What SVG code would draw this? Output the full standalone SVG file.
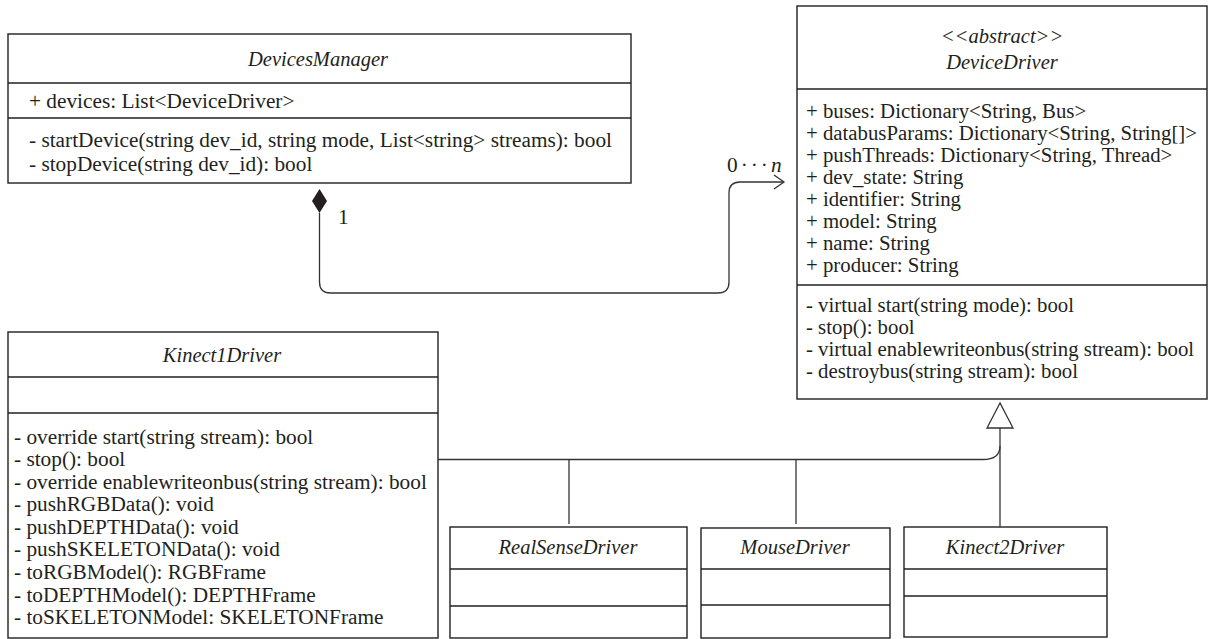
<svg xmlns="http://www.w3.org/2000/svg" width="1215" height="639" viewBox="0 0 1215 639">
<style>
.box{fill:#fff;stroke:#231f20;stroke-width:1.4}
.div{stroke:#231f20;stroke-width:1.3}
.t{font-family:"Liberation Serif","Times New Roman",serif;font-size:21.3px;fill:#231f20}
.dd{font-size:20.8px}
.ti{font-family:"Liberation Serif","Times New Roman",serif;font-size:20.5px;font-style:italic;fill:#231f20;text-anchor:middle}
.c{fill:none;stroke:#333;stroke-width:1.3}
</style>
<rect width="1215" height="639" fill="#fff"/>
<g id="DevicesManager">
<rect class="box" x="8" y="34" width="623" height="149"/>
<line class="div" x1="8" y1="83" x2="631" y2="83"/>
<line class="div" x1="8" y1="118" x2="631" y2="118"/>
<text class="ti" x="318" y="66">DevicesManager</text>
<text class="t" x="29" y="108">+ devices: List&lt;DeviceDriver&gt;</text>
<text class="t" x="29" y="147">- startDevice(string dev_id, string mode, List&lt;string&gt; streams): bool</text>
<text class="t" x="29" y="171">- stopDevice(string dev_id): bool</text>
</g>
<g id="DeviceDriver">
<rect class="box" x="797" y="6" width="410" height="393"/>
<line class="div" x1="797" y1="89" x2="1207" y2="89"/>
<line class="div" x1="797" y1="285" x2="1207" y2="285"/>
<text class="ti" x="1002" y="43">&lt;&lt;abstract&gt;&gt;</text>
<text class="ti" x="1002" y="69">DeviceDriver</text>
<text class="t dd" x="806" y="118">+ buses: Dictionary&lt;String, Bus&gt;</text>
<text class="t dd" x="806" y="140">+ databusParams: Dictionary&lt;String, String[]&gt;</text>
<text class="t dd" x="806" y="162">+ pushThreads: Dictionary&lt;String, Thread&gt;</text>
<text class="t dd" x="806" y="184">+ dev_state: String</text>
<text class="t dd" x="806" y="206">+ identifier: String</text>
<text class="t dd" x="806" y="228">+ model: String</text>
<text class="t dd" x="806" y="250">+ name: String</text>
<text class="t dd" x="806" y="272">+ producer: String</text>
<text class="t dd" x="806" y="312">- virtual start(string mode): bool</text>
<text class="t dd" x="806" y="334">- stop(): bool</text>
<text class="t dd" x="806" y="356">- virtual enablewriteonbus(string stream): bool</text>
<text class="t dd" x="806" y="378">- destroybus(string stream): bool</text>
</g>
<g id="Kinect1Driver">
<rect class="box" x="8" y="332" width="430" height="306"/>
<line class="div" x1="8" y1="377" x2="438" y2="377"/>
<line class="div" x1="8" y1="413" x2="438" y2="413"/>
<text class="ti" x="222" y="362">Kinect1Driver</text>
<text class="t" x="14" y="444">- override start(string stream): bool</text>
<text class="t" x="14" y="466">- stop(): bool</text>
<text class="t" x="14" y="489">- override enablewriteonbus(string stream): bool</text>
<text class="t" x="14" y="511">- pushRGBData(): void</text>
<text class="t" x="14" y="534">- pushDEPTHData(): void</text>
<text class="t" x="14" y="556">- pushSKELETONData(): void</text>
<text class="t" x="14" y="579">- toRGBModel(): RGBFrame</text>
<text class="t" x="14" y="602">- toDEPTHModel(): DEPTHFrame</text>
<text class="t" x="14" y="624">- toSKELETONModel: SKELETONFrame</text>
</g>
<g id="RealSenseDriver">
<rect class="box" x="450" y="527" width="237" height="111"/>
<line class="div" x1="450" y1="569" x2="687" y2="569"/>
<line class="div" x1="450" y1="606" x2="687" y2="606"/>
<text class="ti" x="568" y="554">RealSenseDriver</text>
</g>
<g id="MouseDriver">
<rect class="box" x="701" y="528" width="189" height="110"/>
<line class="div" x1="701" y1="569" x2="890" y2="569"/>
<line class="div" x1="701" y1="605" x2="890" y2="605"/>
<text class="ti" x="795" y="554">MouseDriver</text>
</g>
<g id="Kinect2Driver">
<rect class="box" x="904" y="527" width="203" height="110"/>
<line class="div" x1="904" y1="569" x2="1107" y2="569"/>
<line class="div" x1="904" y1="596" x2="1107" y2="596"/>
<text class="ti" x="1005" y="554">Kinect2Driver</text>
</g>
<g id="connectors">
<path class="c" d="M319.5,213 V282 Q319.5,293 330.5,293 H718 Q729,293 729,282 V193 Q729,182 740,182 H783"/>
<polyline class="c" points="774,175 784,182 774,189"/>
<polygon points="319.5,189 327,201 319.5,213 312,201" fill="#231f20"/>
<text class="t" x="338" y="224">1</text>
<text class="t" x="727" y="172" letter-spacing="3">0···<tspan font-style="italic" letter-spacing="0">n</tspan></text>
<path class="c" d="M438,459.5 H983 C994,459.5 1000,455 1000,446"/>
<path class="c" d="M1000,428 V527"/>
<path class="c" d="M569,459.5 V524"/>
<path class="c" d="M796,459.5 V524"/>
<polygon points="1000,403 987,428 1013,428" fill="#fff" stroke="#333" stroke-width="1.3"/>
</g>
</svg>
